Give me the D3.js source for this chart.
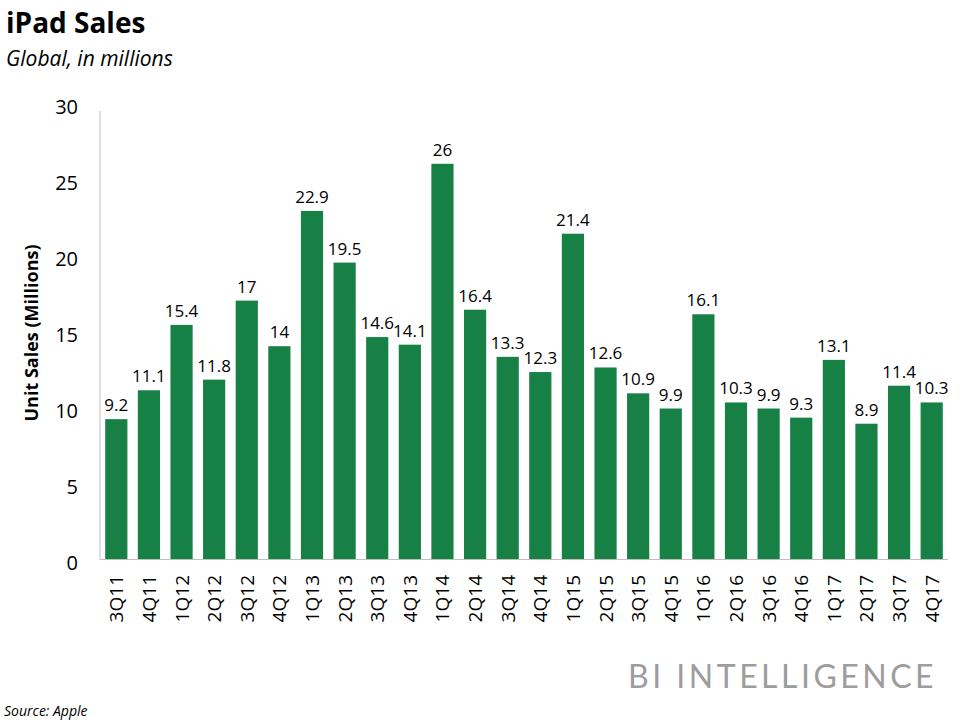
<!DOCTYPE html>
<html><head><meta charset="utf-8">
<script src="https://cdn.jsdelivr.net/npm/d3@7"></script>
<style>body{margin:0;background:#fff;} svg{display:block;}</style>
</head><body>
<svg id="c" width="960" height="720"></svg>
<script>
const categories = ["3Q11","4Q11","1Q12","2Q12","3Q12","4Q12","1Q13","2Q13","3Q13","4Q13","1Q14","2Q14","3Q14","4Q14","1Q15","2Q15","3Q15","4Q15","1Q16","2Q16","3Q16","4Q16","1Q17","2Q17","3Q17","4Q17"];
const values = [9.2,11.1,15.4,11.8,17,14,22.9,19.5,14.6,14.1,26,16.4,13.3,12.3,21.4,12.6,10.9,9.9,16.1,10.3,9.9,9.3,13.1,8.9,11.4,10.3];
const yTicks = [0,5,10,15,20,25,30];

const svg = d3.select("#c");
const font = "'Open Sans', sans-serif";
const green = "#168045";
const pLeft = 100, pRight = 948, pTop = 103, pBottom = 559;

const x = d3.scaleBand().domain(categories).range([pLeft, pRight]).paddingInner(0.32).paddingOuter(0.16);
const y = d3.scaleLinear().domain([0, 30]).range([pBottom, pTop]);

// titles
svg.append("text").attr("x", 6).attr("y", 33).attr("font-family", font).attr("font-weight", 700)
  .attr("font-size", 28).attr("fill", "#000").text("iPad Sales");
svg.append("text").attr("x", 6).attr("y", 66).attr("font-family", font).attr("font-style", "italic")
  .attr("font-size", 21).attr("fill", "#000").text("Global, in millions");

// axes lines
svg.append("line").attr("x1", pLeft).attr("x2", pLeft).attr("y1", pTop + 8).attr("y2", pBottom)
  .attr("stroke", "#bfbfbf").attr("stroke-width", 1);
svg.append("line").attr("x1", pLeft).attr("x2", pRight).attr("y1", pBottom + 0.5).attr("y2", pBottom + 0.5)
  .attr("stroke", "#bfbfbf").attr("stroke-width", 1);

// y ticks
const yAxis = d3.axisLeft(y).tickValues(yTicks).tickSize(0).tickPadding(0);
const gy = svg.append("g").attr("transform", `translate(${pLeft - 22},4)`).call(yAxis);
gy.select(".domain").remove();
gy.selectAll("text").attr("font-family", font).attr("font-size", 20).attr("fill", "#000");

// y title
svg.append("text").attr("transform", `translate(38,333) rotate(-90)`).attr("text-anchor", "middle")
  .attr("font-family", font).attr("font-weight", 700).attr("font-size", 18).attr("fill", "#000")
  .text("Unit Sales (Millions)");

// bars
svg.selectAll("rect.bar").data(categories).join("rect").attr("class", "bar")
  .attr("x", d => x(d)).attr("width", x.bandwidth())
  .attr("y", (d, i) => y(values[i])).attr("height", (d, i) => y(0) - y(values[i]))
  .attr("fill", green);

// value labels
svg.selectAll("text.val").data(categories).join("text").attr("class", "val")
  .attr("x", d => x(d) + x.bandwidth() / 2).attr("y", (d, i) => y(values[i]) - 8)
  .attr("text-anchor", "middle").attr("font-family", font).attr("font-size", 17).attr("fill", "#000")
  .text((d, i) => values[i]);

// x labels
const xAxis = d3.axisBottom(x).tickSize(0).tickPadding(0);
const gx = svg.append("g").attr("transform", `translate(0,${pBottom})`).call(xAxis);
gx.select(".domain").remove();
gx.selectAll("text").attr("font-family", font).attr("font-size", 19).attr("fill", "#000")
  .attr("text-anchor", "end").attr("dy", null).attr("y", 0)
  .attr("transform", "translate(7,16) rotate(-90)");

// logo
svg.append("text").attr("x", 628).attr("y", 688).attr("font-family", "Lato, sans-serif")
  .attr("font-size", 32).attr("fill", "#9d9d9d").attr("letter-spacing", 3.5).text("BI INTELLIGENCE");

// source
svg.append("text").attr("x", 4).attr("y", 716).attr("font-family", font).attr("font-style", "italic")
  .attr("font-size", 14).attr("fill", "#000").text("Source: Apple");
</script>
</body></html>
